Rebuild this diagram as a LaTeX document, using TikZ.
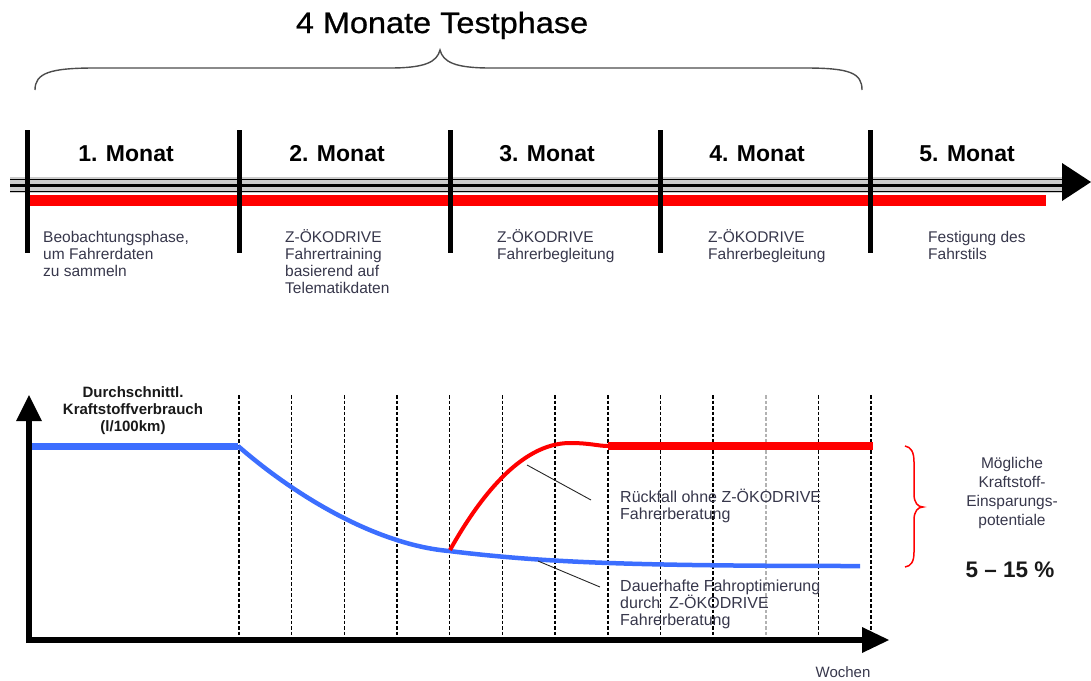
\documentclass[tikz,border=0pt]{standalone}
\usepackage{fontspec}
\setmainfont{Liberation Sans}
\newfontfamily\titlefont[FakeStretch=1.1,FakeBold=0.8]{Liberation Sans}
\definecolor{txtc}{RGB}{55,55,75}
\definecolor{myblue}{RGB}{60,110,255}
\definecolor{myred}{RGB}{255,0,0}
\begin{document}
\begin{tikzpicture}[x=1pt,y=-1pt,
  lbl/.style={inner sep=0pt, font=\fontsize{15.5}{17}\selectfont, text=txtc, align=left, anchor=base west},
  ctr/.style={inner sep=0pt, font=\fontsize{15.5}{18.7}\selectfont, text=txtc, align=center, anchor=base},
  month/.style={inner sep=0pt, font=\fontsize{23}{26}\selectfont\bfseries, anchor=base},
  monthbar/.style={line width=5pt},
  wk/.style={line width=1.6pt, dash pattern=on 3.5pt off 2pt},
  leader/.style={line width=0.9pt, black!85},
  axis/.style={line width=6pt}]
\useasboundingbox (0,0) rectangle (1091,680);

% ---------- title and brace ----------
\node[inner sep=0pt, anchor=base, font=\fontsize{29.5}{32}\titlefont] (title) at (442,33) {4 Monate Testphase};
\coordinate (brL) at (35,90);
\coordinate (brT) at (440,50);
\coordinate (brR) at (862,90);
\draw[line width=1.4pt, black!70] (brL) .. controls (35,73) and (50,68) .. (95,68) -- (390,68)
  .. controls (425,68) and (437,62) .. (brT) .. controls (443,62) and (455,68) .. (490,68)
  -- (805,68) .. controls (850,68) and (862,73) .. (brR);

% ---------- timeline ----------
\fill[gray!40] (10,177) rectangle (1064,193);
\draw[line width=1pt] (10,179) -- (1064,179);
\draw[line width=2.4pt] (10,185.5) -- (1064,185.5);
\draw[line width=1pt] (10,191.5) -- (1064,191.5);
\coordinate (tip) at (1091,182);
\fill (1062,163) -- (tip) -- (1062,201) -- cycle;
\draw[myred, line width=11pt] (28,200.5) -- (1046,200.5);

\foreach \x in {27,239,450,660,870}{
  \draw[monthbar] (\x,130) -- (\x,253);
}

\node[month] (m1) at (126,161) {1. Monat};
\node[month] (m2) at (337,161) {2. Monat};
\node[month] (m3) at (547,161) {3. Monat};
\node[month] (m4) at (757,161) {4. Monat};
\node[month] (m5) at (967,161) {5. Monat};

% (base anchor = baseline of the last line)
\node[lbl] (d1) at (43,276) {Beobachtungsphase,\\um Fahrerdaten\\zu sammeln};
\node[lbl] (d2) at (285,293) {Z-ÖKODRIVE\\Fahrertraining\\basierend auf\\Telematikdaten};
\node[lbl] (d3) at (497,259) {Z-ÖKODRIVE\\Fahrerbegleitung};
\node[lbl] (d4) at (708,259) {Z-ÖKODRIVE\\Fahrerbegleitung};
\node[lbl] (d5) at (928,259) {Festigung des\\Fahrstils};

% ---------- chart ----------
\foreach \k in {0,...,12}{
  \pgfmathsetmacro{\xx}{239+\k*52.67}
  \ifnum\k=10
    \draw[wk, black!30] (\xx,395) -- (\xx,640);
  \else
    \draw[wk] (\xx,395) -- (\xx,640);
  \fi
}

% blue curve
\coordinate (b0) at (29,446);
\coordinate (b1) at (238,446);
\coordinate (b2) at (449,551);
\coordinate (b3) at (860,566);
\draw[myblue, line width=7pt] (b0) -- (b1);
\draw[myblue, line width=4.5pt] (b1) .. controls (300,500) and (380,545) .. (b2)
  .. controls (540,562) and (620,566) .. (b3);

% red curve
\coordinate (r0) at (450,550);
\coordinate (r1) at (570,443);
\coordinate (r2) at (608,446);
\coordinate (r3) at (873,446);
\draw[myred, line width=4pt] (r0) .. controls (478,500) and (520,443) .. (r1)
  .. controls (590,443) and (598,446) .. (r2);
\draw[myred, line width=8pt] (r2) -- (r3);

% axes
\coordinate (yt) at (29,395);
\coordinate (xt) at (889,640);
\draw[axis] (29,643) -- (29,418);
\fill (16,421) -- (yt) -- (42,421) -- cycle;
\draw[axis] (26,640) -- (864,640);
\fill (862,627) -- (xt) -- (862,653) -- cycle;

\node[inner sep=0pt, anchor=base, font=\fontsize{15}{17}\selectfont\bfseries, align=center, text=black!90] (ylab) at (133,431)
  {Durchschnittl.\\Kraftstoffverbrauch\\(l/100km)};
\node[inner sep=0pt, anchor=base, font=\fontsize{15}{17}\selectfont, text=txtc] (wochen) at (843,677) {Wochen};

% leaders and labels
\node[lbl, font=\fontsize{16}{17}\selectfont] (rl) at (620,519) {Rückfall ohne Z-ÖKODRIVE\\Fahrerberatung};
\node[lbl, font=\fontsize{16}{17}\selectfont] (dl) at (620,625) {Dauerhafte Fahroptimierung\\durch\ \ Z-ÖKODRIVE\\Fahrerberatung};
\coordinate (l1a) at (527,465);
\coordinate (l1b) at (591,500);
\coordinate (l2a) at (538,561);
\coordinate (l2b) at (600,587);
\draw[leader] (l1a) -- (l1b);
\draw[leader] (l2a) -- (l2b);

% right brace
\coordinate (rbT) at (905,446);
\coordinate (rbM) at (923,507);
\coordinate (rbB) at (905,567);
\draw[myred, line width=1.5pt] (rbT) .. controls (911,447) and (914,452) .. (914,462) -- (914,494)
  .. controls (914,503) and (918,507) .. (rbM) .. controls (918,507) and (914,511) .. (914,520)
  -- (914,552) .. controls (914,562) and (911,566) .. (rbB);

\node[ctr] (pot) at (1012,525) {Mögliche\\Kraftstoff-\\Einsparungs-\\potentiale};
\node[inner sep=0pt, anchor=base, font=\fontsize{22.5}{25}\selectfont\bfseries, text=black!90] (pct) at (1010,577) {5 – 15 \%};
\end{tikzpicture}
\end{document}
